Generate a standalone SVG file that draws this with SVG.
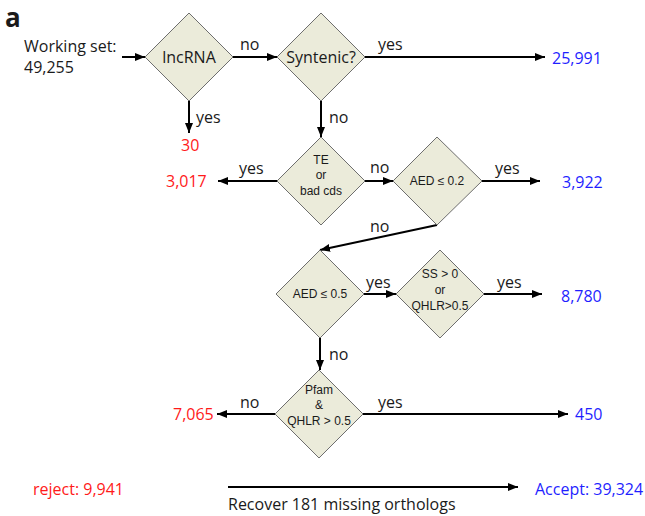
<svg xmlns="http://www.w3.org/2000/svg" width="645" height="516" viewBox="0 0 645 516">
<defs>
<marker id="ah" markerUnits="userSpaceOnUse" markerWidth="10" markerHeight="8" refX="10" refY="4" orient="auto">
<path d="M0,0 L10,4 L0,8 z" fill="#000"/>
</marker>
<style>
text{font-family:"Open Sans","Liberation Sans",sans-serif;fill:#1a1a1a}
.t{font-size:16px}
.s{font-size:12px;text-anchor:middle;font-family:"Liberation Sans",sans-serif}
.m{font-size:16px;text-anchor:middle}
.r{fill:#ff1a1a}
.b{fill:#1f1fff}
.d{fill:#ebebda;stroke:#6e6e6e;stroke-width:1}
.c line{stroke:#000;stroke-width:2;marker-end:url(#ah)}
</style>
</defs>
<rect width="645" height="516" fill="#fff"/>
<text x="5" y="27" style="font-size:26px;font-weight:bold">a</text>

<g id="connectors" class="c">
<line x1="122" y1="57" x2="145" y2="57"/>
<line x1="233" y1="57" x2="277" y2="57"/>
<line x1="365" y1="57" x2="545" y2="57"/>
<line x1="189" y1="101" x2="189" y2="133"/>
<line x1="321" y1="101" x2="321" y2="137"/>
<line x1="277" y1="181" x2="218" y2="181"/>
<line x1="365" y1="181" x2="393" y2="181"/>
<line x1="482" y1="181" x2="540" y2="181"/>
<line x1="437" y1="225" x2="320" y2="250"/>
<line x1="364" y1="294" x2="396" y2="294"/>
<line x1="484" y1="294" x2="542" y2="294"/>
<line x1="320" y1="338" x2="320" y2="370"/>
<line x1="275" y1="414" x2="217" y2="414"/>
<line x1="363" y1="414" x2="568" y2="414"/>
<line x1="228" y1="487" x2="518" y2="487"/>
</g>

<g id="labels">
<text class="t" x="240" y="50">no</text>
<text class="t" x="378" y="50">yes</text>
<text class="t" x="196" y="123">yes</text>
<text class="t" x="329" y="123">no</text>
<text class="t" x="239" y="174">yes</text>
<text class="t" x="370" y="173">no</text>
<text class="t" x="495" y="174">yes</text>
<text class="t" x="370" y="232">no</text>
<text class="t" x="366" y="288">yes</text>
<text class="t" x="497" y="288">yes</text>
<text class="t" x="329" y="360">no</text>
<text class="t" x="240" y="408">no</text>
<text class="t" x="378" y="408">yes</text>
</g>

<g id="start"><text class="t" x="24" y="52">Working set:</text><text class="t" x="24" y="73">49,255</text></g>

<g id="lncRNA"><polygon class="d" points="189,13 233,57 189,101 145,57"/><text class="m" x="189" y="63">lncRNA</text></g>
<g id="syntenic"><polygon class="d" points="321,13 365,57 321,101 277,57"/><text class="m" x="321" y="63">Syntenic?</text></g>
<g id="te"><polygon class="d" points="321,137 365,181 321,225 277,181"/><text class="s" x="321" y="164">TE</text><text class="s" x="321" y="179">or</text><text class="s" x="321" y="195">bad cds</text></g>
<g id="aed02"><polygon class="d" points="437,137 482,181 437,225 393,181"/><text class="s" x="437" y="185">AED ≤ 0.2</text></g>
<g id="aed05"><polygon class="d" points="320,250 364,294 320,338 276,294"/><text class="s" x="320" y="298">AED ≤ 0.5</text></g>
<g id="ss"><polygon class="d" points="440,250 484,294 440,338 396,294"/><text class="s" x="440" y="278">SS &gt; 0</text><text class="s" x="440" y="294">or</text><text class="s" x="440" y="310">QHLR&gt;0.5</text></g>
<g id="pfam"><polygon class="d" points="319,370 363,414 319,458 275,414"/><text class="s" x="319" y="394">Pfam</text><text class="s" x="319" y="409">&amp;</text><text class="s" x="319" y="425">QHLR &gt; 0.5</text></g>

<g id="outcomes">
<text class="t r" x="181" y="151">30</text>
<text class="t b" x="552" y="64">25,991</text>
<text class="t r" x="166" y="187">3,017</text>
<text class="t b" x="562" y="188">3,922</text>
<text class="t b" x="561" y="302">8,780</text>
<text class="t r" x="173" y="420">7,065</text>
<text class="t b" x="575" y="420">450</text>
<text class="t r" x="33" y="495">reject: 9,941</text>
<text class="t b" x="535" y="495">Accept: 39,324</text>
<text class="t" x="228" y="510">Recover 181 missing orthologs</text>
</g>
</svg>
